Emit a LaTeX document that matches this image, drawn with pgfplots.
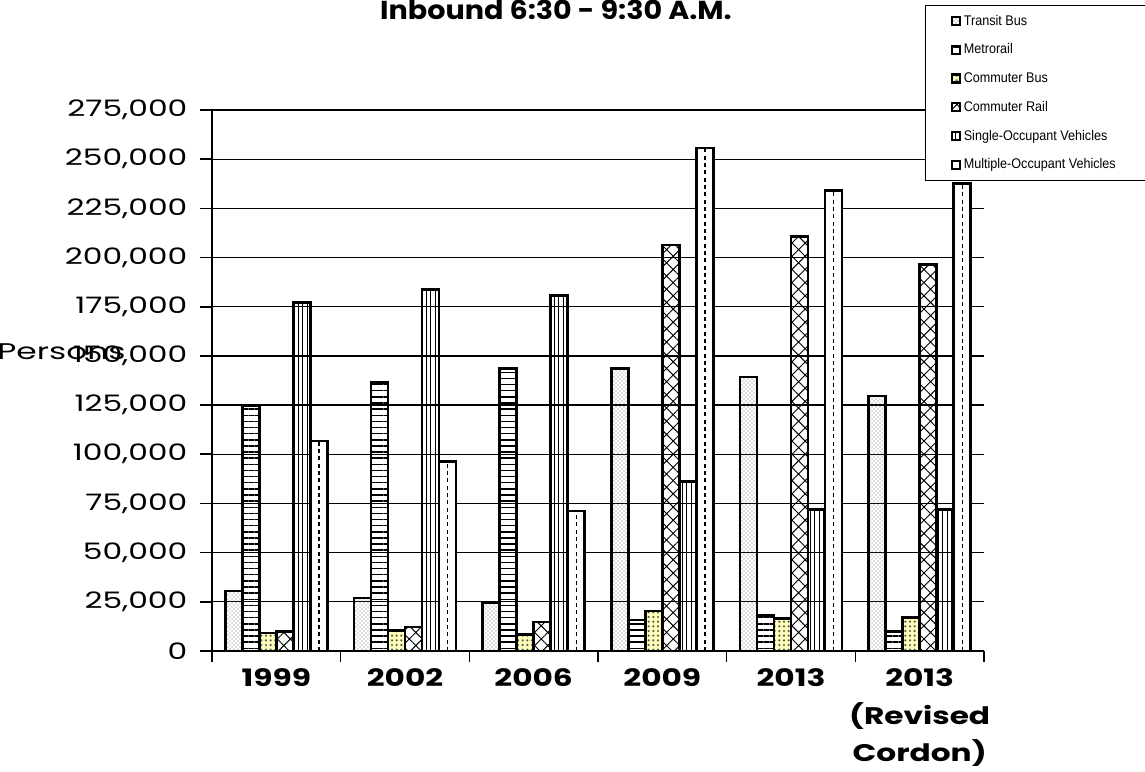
\documentclass[border=0pt]{standalone}
\usepackage{fontspec}
\setmainfont{Poppins}
\newfontfamily\legfont{Liberation Sans}
\usepackage{graphicx}
\usepackage{pgfplots}
\usepackage{pgfplotstable}
\pgfplotsset{compat=1.18}
\usetikzlibrary{patterns,patterns.meta}

\newcommand\sx[1]{\scalebox{1.3}[1]{#1}}
\newcommand\lx[1]{\makebox[150pt][l]{\scalebox{0.9}[1]{#1}}}

\pgfplotstableread{
x tb mr cb cr sov mov
0 30500 124700 9100 10000 177200 106700
1 27000 136400 10300 12200 183900 96300
2 24500 143700 8300 14800 180600 71100
3 143500 15700 20300 206300 86100 255600
4 139300 18100 16400 210700 72000 234200
5 129700 10000 16900 196600 72000 237500
}\data

\begin{document}
\begin{tikzpicture}
\useasboundingbox (0,0) rectangle (858.75pt,578.25pt);
\clip (0,0) rectangle (858.75pt,578.25pt);
\begin{axis}[
  at={(159pt,90pt)}, anchor=south west,
  scale only axis, width=579pt, height=405.75pt,
  xmin=-0.5, xmax=5.5, ymin=0, ymax=275000,
  clip=false,
  axis lines=left, axis line style={-, line width=1.4pt},
  tick align=outside,
  ytick={0,25000,...,275000},
  scaled y ticks=false,
  /pgf/number format/fixed,
  /pgf/number format/1000 sep={,},
  /pgf/number format/assume math mode=true,
  yticklabel={\scalebox{1.38}[1]{\pgfmathprintnumber{\tick}}},
  yticklabel style={font=\fontsize{17}{20}\selectfont, xshift=-6pt},
  major tick length=9pt,
  minor tick length=8pt,
  ytick style={line width=1.2pt, black},
  xtick={0,...,5},
  minor xtick={-0.5,0.5,...,5.5},
  major x tick style={draw=none},
  minor x tick style={line width=1.2pt, black},
  xticklabels={{\sx{1999}},{\sx{2002}},{\sx{2006}},{\sx{2009}},{\sx{2013}},{\sx{2013}\\\sx{(Revised}\\\sx{Cordon)}}},
  xticklabel style={font=\bfseries\fontsize{18}{28}\selectfont, align=center, anchor=north, yshift=-1pt},
  ymajorgrids, major grid style={black, line width=0.9pt},
  legend cell align=left,
  legend style={at={(0.9236,1.194)}, anchor=north west, draw=black, line width=1pt, fill=white,
    font=\legfont\fontsize{10.5}{12}\selectfont, inner xsep=19pt, inner ysep=5pt, row sep=8.5pt},
  mybar/.style={ybar, bar width=12.75pt, draw=black, line width=2pt,
    legend image code/.code={\draw[##1, line width=1.6pt] (0pt,-3pt) rectangle (6pt,3pt);}},
]
\addplot[mybar, bar shift=-31.875pt, pattern=crosshatch dots, pattern color=black!55] table[x=x,y=tb]{\data};
\addlegendentry{\lx{Transit Bus}}
\addplot[mybar, bar shift=-19.125pt, pattern={Lines[angle=0,distance=4.6pt,line width=1.1pt]}] table[x=x,y=mr]{\data};
\addlegendentry{\lx{Metrorail}}
\addplot[mybar, bar shift=-6.375pt, fill={rgb,255:red,255;green,255;blue,185}, postaction={pattern={Dots[distance=3.5pt,radius=0.9pt]}, pattern color=black!65}] table[x=x,y=cb]{\data};
\addlegendentry{\lx{Commuter Bus}}
\addplot[mybar, bar shift=6.375pt, pattern={Hatch[angle=45,distance=7pt,line width=0.7pt]}] table[x=x,y=cr]{\data};
\addlegendentry{\lx{Commuter Rail}}
\addplot[mybar, bar shift=19.125pt, pattern={Lines[angle=90,distance=3.2pt,line width=0.8pt]}] table[x=x,y=sov]{\data};
\addlegendentry{\lx{Single-Occupant Vehicles}}
\addplot[mybar, bar shift=31.875pt, fill=white] table[x=x,y=mov]{\data};
\addlegendentry{\lx{Multiple-Occupant Vehicles}}
\addplot[ycomb, mark=none, black, line width=1pt, dash pattern=on 3pt off 2.5pt, xshift=31.875pt, forget plot] table[x=x,y=mov]{\data};
\node[font=\fontsize{17}{20}\selectfont] at (rel axis cs:-0.195,0.5527) {\scalebox{1.45}[1]{Persons}};
\node[font=\bfseries\fontsize{19.5}{22}\selectfont, anchor=base] at (rel axis cs:0.4456,1.168) {\scalebox{1.1}[1]{Inbound 6:30 - 9:30 A.M.}};
\end{axis}
\end{tikzpicture}
\end{document}
